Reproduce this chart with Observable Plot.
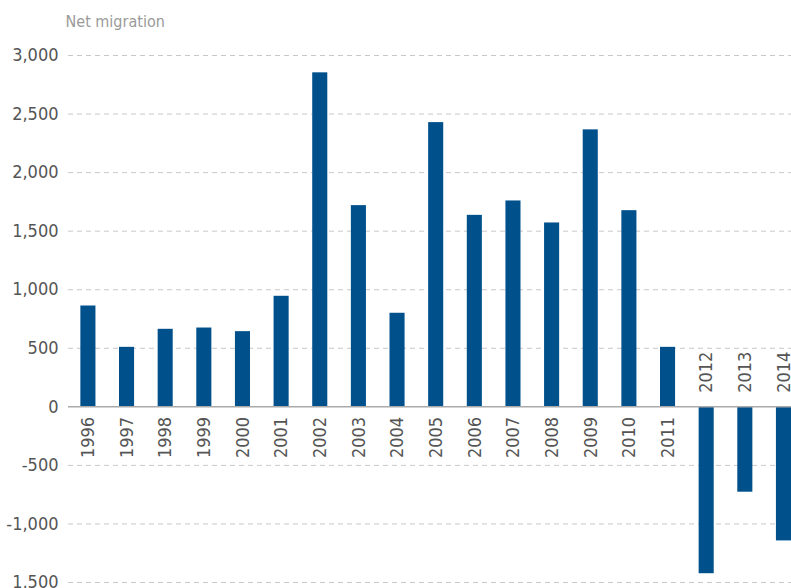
<!DOCTYPE html>
<html>
<head>
<meta charset="utf-8">
<script src="https://cdn.jsdelivr.net/npm/d3@7"></script>
<script src="https://cdn.jsdelivr.net/npm/@observablehq/plot@0.6"></script>
<style>
  html, body { margin: 0; padding: 0; background: #fff; }
  #chart svg { display: block; }
</style>
</head>
<body>
<div id="chart"></div>
<script>
const years = ["1996","1997","1998","1999","2000","2001","2002","2003","2004","2005","2006","2007","2008","2009","2010","2011","2012","2013","2014"];
const netMigration = [861, 508, 662, 673, 642, 944, 2852, 1718, 799, 2427, 1635, 1758, 1570, 2365, 1675, 508, -1425, -729, -1145];
const tickValues = [-1500, -1000, -500, 0, 500, 1000, 1500, 2000, 2500, 3000];
const tickLabels = ["1,500", "-1,000", "-500", "0", "500", "1,000", "1,500", "2,000", "2,500", "3,000"];
const titleText = "Net migration";

const data = years.map((y, i) => ({year: y, value: netMigration[i]}));
const labelOf = new Map(tickValues.map((v, i) => [v, tickLabels[i]]));

const font = "'DejaVu Sans Condensed', 'Roboto', sans-serif";

const chart = Plot.plot({
  width: 791,
  height: 588,
  marginTop: 55,
  marginBottom: 6,
  marginLeft: 68,
  marginRight: 0,
  style: {fontFamily: font, fontSize: "18px", color: "#555", background: "#fff", overflow: "visible"},
  x: {domain: years, paddingInner: 0.61, paddingOuter: 0.16, align: 1, round: false, axis: null},
  y: {domain: [-1500, 3000], axis: null},
  marks: [
    Plot.gridY(tickValues.filter(d => d !== 0), {stroke: "#c8c8c8", strokeOpacity: 1, strokeDasharray: "5,4"}),
    Plot.barY(data, {x: "year", y: "value", fill: "#00508c"}),
    Plot.ruleY([0], {stroke: "#aaa", strokeWidth: 1.5}),
    Plot.axisY(tickValues, {tickSize: 0, tickPadding: 10, tickFormat: d => labelOf.get(d), fontSize: 18, fill: "#555", label: null}),
    Plot.text(data.filter(d => d.value >= 0), {x: "year", y: 0, text: "year", rotate: -90, textAnchor: "end", dy: 10, fontSize: 18, fill: "#555"}),
    Plot.text(data.filter(d => d.value < 0), {x: "year", y: 0, text: "year", rotate: -90, textAnchor: "start", dy: -14, fontSize: 18, fill: "#555"}),
    Plot.text([titleText], {frameAnchor: "top-left", text: d => d, dx: -3, dy: -40, textAnchor: "start", fontSize: 16, fill: "#9a9a9a"})
  ]
});
document.getElementById("chart").appendChild(chart);
</script>
</body>
</html>
